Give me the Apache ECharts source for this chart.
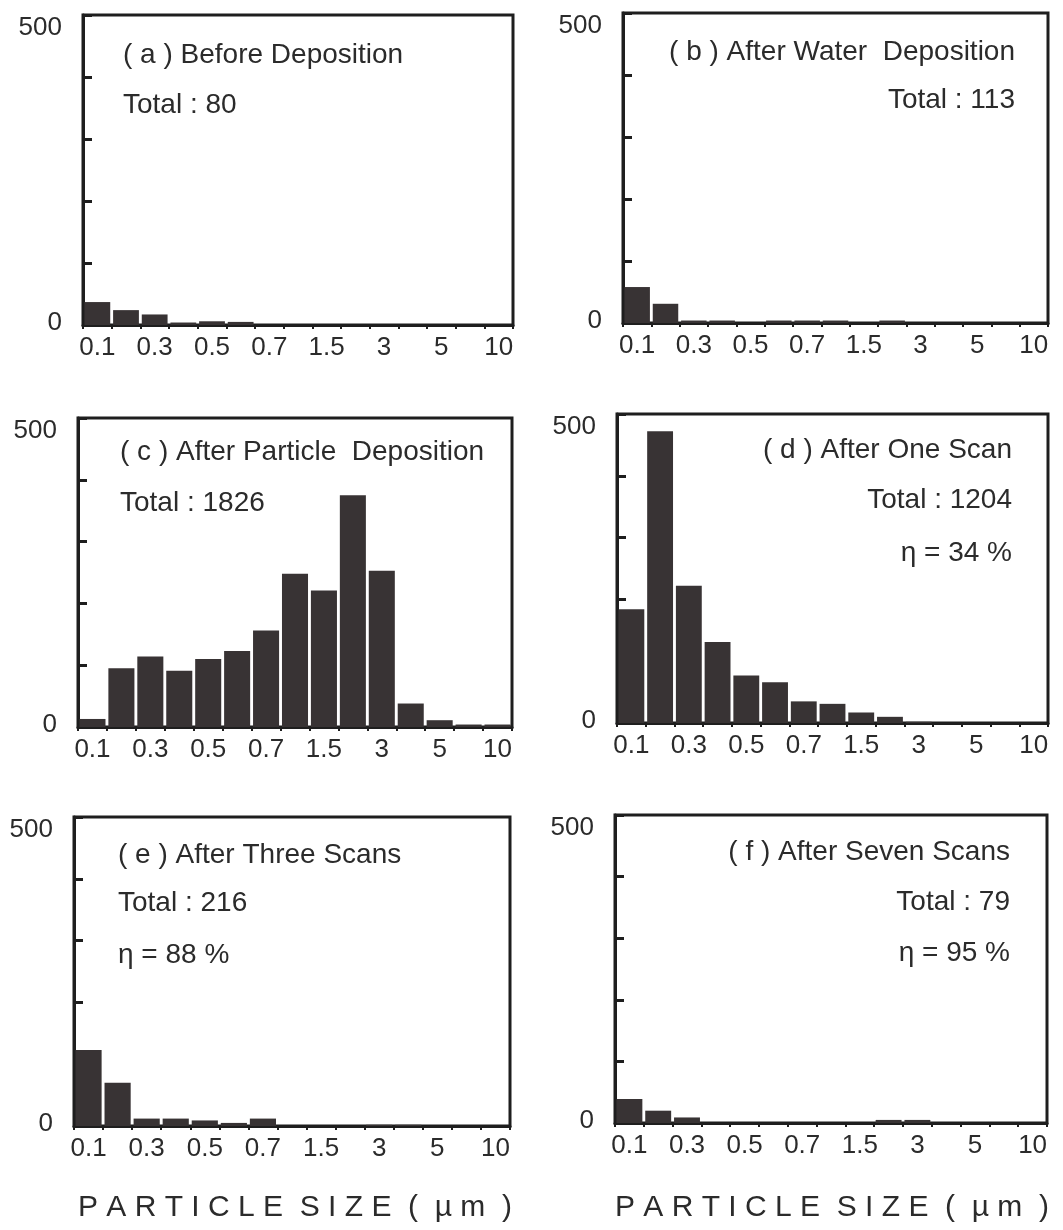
<!DOCTYPE html>
<html>
<head>
<meta charset="utf-8">
<script src="https://cdn.jsdelivr.net/npm/echarts@6/dist/echarts.min.js"></script>
<style>
html,body{margin:0;padding:0;background:#fff;}
#chart{width:1063px;height:1230px;}
</style>
</head>
<body>
<div id="chart"></div>
<script>
// Particle size bins (15 bins); only every other one is labelled on the axis
const binIds = ['b1','b2','b3','b4','b5','b6','b7','b8','b9','b10','b11','b12','b13','b14','b15'];
const xTickLabels = ['0.1','','0.3','','0.5','','0.7','','1.5','','3','','5','','10'];
const yTickLabels = {0: '0', 500: '500'};

// Particle counts per bin
const countsA = [37, 24, 17, 4, 6, 5, 0, 0, 0, 0, 0, 0, 0, 0, 0];
const countsB = [58, 31, 4, 4, 0, 4, 4, 4, 0, 4, 0, 0, 0, 0, 0];
const countsC = [13, 95, 114, 91, 110, 123, 156, 248, 221, 375, 253, 38, 11, 4, 4];
const countsD = [184, 472, 222, 131, 77, 66, 35, 31, 17, 10, 2, 0, 0, 0, 0];
const countsE = [123, 70, 12, 12, 9, 5, 12, 0, 0, 0, 2, 2, 0, 0, 0];
const countsF = [39, 20, 9, 0, 0, 0, 0, 0, 0, 5, 5, 0, 0, 0, 0];

// Panel annotations
const panelTitles = ['( a ) Before Deposition', '( b ) After Water  Deposition', '( c ) After Particle  Deposition',
                     '( d ) After One Scan', '( e ) After Three Scans', '( f ) After Seven Scans'];
const panelTotals = ['Total : 80', 'Total : 113', 'Total : 1826', 'Total : 1204', 'Total : 216', 'Total : 79'];
const panelEta = ['', '', '', 'η = 34 %', 'η = 88 %', 'η = 95 %'];
const xAxisTitle = 'P A R T I C L E  S I Z E  (  µ m  )';

const allCounts = [countsA, countsB, countsC, countsD, countsE, countsF];

// layout (pixels)
const grids = [
  {left: 83, top: 15, width: 430, height: 310},
  {left: 623, top: 13, width: 425, height: 310},
  {left: 78, top: 418, width: 434, height: 309},
  {left: 617, top: 414, width: 431, height: 309},
  {left: 74, top: 817, width: 436, height: 309},
  {left: 615, top: 815, width: 432, height: 308}
];
const annot = [
  {x: 123, align: 'left', ys: [55, 105]},
  {x: 1015, align: 'right', ys: [52, 100]},
  {x: 120, align: 'left', ys: [452, 503]},
  {x: 1012, align: 'right', ys: [450, 500, 553]},
  {x: 118, align: 'left', ys: [855, 903, 955]},
  {x: 1010, align: 'right', ys: [852, 902, 953]}
];

const FONT = '"Liberation Sans", Arial, Helvetica, sans-serif';
const TEXT = '#2b2b2b';
const FRAME = '#1e1e1e';
const BAR = '#383334';

const chart = echarts.init(document.getElementById('chart'), null, {renderer: 'canvas'});

const option = {
  backgroundColor: '#fff',
  animation: false,
  grid: [], xAxis: [], yAxis: [], series: [], graphic: []
};

grids.forEach((g, i) => {
  option.grid.push(Object.assign({show: true, borderColor: FRAME, borderWidth: 3, backgroundColor: 'transparent'}, g));
  option.xAxis.push({
    type: 'category', gridIndex: i, data: binIds, boundaryGap: true,
    axisLine: {show: true, lineStyle: {color: FRAME, width: 3}},
    axisTick: {show: true, interval: 0, length: 4, inside: false, lineStyle: {color: FRAME, width: 2}},
    axisLabel: {interval: 0, margin: 10, color: TEXT, fontFamily: FONT, fontSize: 26,
      formatter: (v, idx) => xTickLabels[idx]},
    splitLine: {show: false}
  });
  option.yAxis.push({
    type: 'value', gridIndex: i, min: 0, max: 500, interval: 100,
    axisLine: {show: true, lineStyle: {color: FRAME, width: 3}},
    axisTick: {show: true, inside: true, length: 9, lineStyle: {color: FRAME, width: 3}},
    splitLine: {show: false},
    axisLabel: {margin: 21, color: TEXT, fontFamily: FONT, fontSize: 26,
      formatter: v => v === 500 ? '{t|' + yTickLabels[500] + '}' : (v === 0 ? '{b|' + yTickLabels[0] + '}' : ''),
      rich: {
        t: {fontSize: 26, fontFamily: FONT, color: TEXT, padding: [26, 0, 0, 0]},
        b: {fontSize: 26, fontFamily: FONT, color: TEXT, padding: [0, 0, 4, 0]}
      }}
  });
  option.series.push({
    type: 'bar', xAxisIndex: i, yAxisIndex: i, data: allCounts[i],
    barCategoryGap: '10%', itemStyle: {color: BAR}, z: 1
  });
  const a = annot[i];
  const lines = [panelTitles[i], panelTotals[i], panelEta[i]];
  a.ys.forEach((y, k) => {
    option.graphic.push({
      type: 'text', x: a.x, y: y, z: 10,
      style: {text: lines[k], fill: TEXT, font: '28px ' + FONT, textAlign: a.align, textVerticalAlign: 'middle'}
    });
  });
});

// x-axis titles under the bottom panels
[295, 832].forEach(cx => {
  option.graphic.push({
    type: 'text', x: cx, y: 1208, z: 10,
    style: {text: xAxisTitle, fill: TEXT, font: '30px ' + FONT, textAlign: 'center', textVerticalAlign: 'middle'}
  });
});

chart.setOption(option);
</script>
</body>
</html>
